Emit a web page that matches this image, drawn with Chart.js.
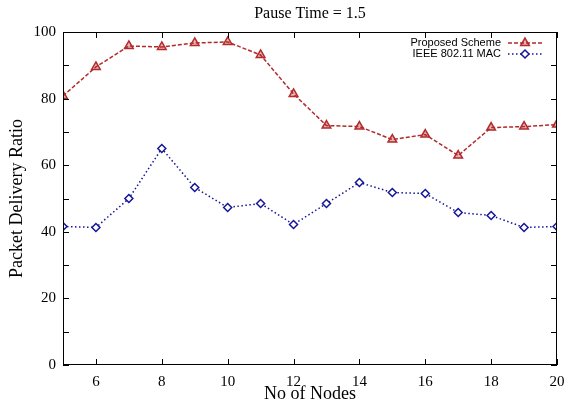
<!DOCTYPE html>
<html>
<head>
<meta charset="utf-8">
<script src="https://cdn.jsdelivr.net/npm/chart.js@4"></script>
<style>
  body { margin: 0; background: #fff; }
  #wrap { width: 566px; height: 403px; }
</style>
</head>
<body>
<div id="wrap"><canvas id="chartPdr"></canvas></div>
<script>
// data
const nodes = [5, 6, 7, 8, 9, 10, 11, 12, 13, 14, 15, 16, 17, 18, 19, 20];
const proposed = [80.8, 89.5, 95.8, 95.5, 96.7, 97.0, 93.1, 81.4, 71.9, 71.6, 67.7, 69.2, 62.9, 71.3, 71.6, 72.2];
const ieee = [41.6, 41.3, 50.0, 65.0, 53.3, 47.3, 48.5, 42.2, 48.5, 54.8, 51.8, 51.5, 45.8, 44.9, 41.3, 41.6];
const xTicks = [6, 8, 10, 12, 14, 16, 18, 20];
const yTicks = [0, 10, 20, 30, 40, 50, 60, 70, 80, 90, 100];

const RED = '#b22a2a';
const BLUE = '#14149a';
const serif = '"Liberation Serif", "DejaVu Serif", serif';

// box + inward ticks (gnuplot look), title, legend inside plot
const framePlugin = {
    id: 'frame',
    afterDraw(chart) {
        const ctx = chart.ctx;
        const a = chart.chartArea;
        const xs = chart.scales.x, ys = chart.scales.y;
        ctx.save();
        ctx.strokeStyle = '#000';
        ctx.lineWidth = 1;
        ctx.strokeRect(a.left + 0.5, a.top + 0.5, a.right - a.left - 1, a.bottom - a.top - 1);
        ctx.beginPath();
        xTicks.forEach(v => {
            const px = Math.round(xs.getPixelForValue(v)) + 0.5;
            ctx.moveTo(px, a.bottom); ctx.lineTo(px, a.bottom - 6);
            ctx.moveTo(px, a.top); ctx.lineTo(px, a.top + 6);
        });
        yTicks.forEach(v => {
            const py = Math.round(ys.getPixelForValue(v)) + 0.5;
            ctx.moveTo(a.left, py); ctx.lineTo(a.left + 6, py);
            ctx.moveTo(a.right, py); ctx.lineTo(a.right - 6, py);
        });
        ctx.stroke();

        // title
        ctx.fillStyle = '#000';
        ctx.font = '16px ' + serif;
        ctx.textAlign = 'center';
        ctx.textBaseline = 'middle';
        ctx.fillText('Pause Time = 1.5', (a.left + a.right) / 2, 14);

        // legend
        const items = [
            { text: 'Proposed Scheme', color: RED, dash: [4, 2], style: 'triangle' },
            { text: 'IEEE 802.11 MAC', color: BLUE, dash: [1.5, 2.5], style: 'rectRot' }
        ];
        ctx.font = '11px "Liberation Sans", Arial, sans-serif';
        ctx.textAlign = 'right';
        items.forEach((it, i) => {
            const y = 43 + i * 11;
            ctx.fillStyle = '#000';
            ctx.fillText(it.text, 501, y);
            ctx.strokeStyle = it.color;
            ctx.lineWidth = 1.5;
            ctx.setLineDash(it.dash);
            ctx.beginPath();
            ctx.moveTo(508, y); ctx.lineTo(542, y);
            ctx.stroke();
            ctx.setLineDash([]);
            ctx.fillStyle = it.style === 'triangle' ? 'rgba(178,42,42,0.35)' : '#fff';
            Chart.helpers.drawPoint(ctx, {
                pointStyle: it.style,
                radius: it.style === 'triangle' ? 5 : 4,
                rotation: 0,
                borderWidth: 1.5
            }, 525, y);
        });
        ctx.restore();
    }
};

new Chart(document.getElementById('chartPdr'), {
    type: 'line',
    data: {
        labels: nodes,
        datasets: [
            {
                label: 'Proposed Scheme',
                data: nodes.map((n, i) => ({ x: n, y: proposed[i] })),
                borderColor: RED,
                borderWidth: 1.5,
                borderDash: [4, 2],
                pointStyle: 'triangle',
                pointRadius: 5,
                pointBorderWidth: 1.5,
                pointBorderColor: RED,
                pointBackgroundColor: 'rgba(178,42,42,0.35)',
                tension: 0
            },
            {
                label: 'IEEE 802.11 MAC',
                data: nodes.map((n, i) => ({ x: n, y: ieee[i] })),
                borderColor: BLUE,
                borderWidth: 1.5,
                borderDash: [1.5, 2.5],
                pointStyle: 'rectRot',
                pointRadius: 4,
                pointBorderWidth: 1.5,
                pointBorderColor: BLUE,
                pointBackgroundColor: '#fff',
                tension: 0
            }
        ]
    },
    options: {
        responsive: true,
        maintainAspectRatio: false,
        animation: false,
        layout: { padding: { top: 32, right: 9, left: 0, bottom: 0 } },
        scales: {
            x: {
                type: 'linear',
                min: 5,
                max: 20,
                afterBuildTicks: s => { s.ticks = xTicks.map(v => ({ value: v })); },
                afterFit: s => { s.height = 38; s.paddingRight = 0; s.paddingLeft = 0; },
                grid: { display: false, drawTicks: false },
                border: { display: false },
                ticks: { color: '#000', font: { family: serif, size: 15 }, padding: 8, maxRotation: 0 },
                title: { display: true, text: 'No of Nodes', color: '#000', font: { family: serif, size: 18, lineHeight: 1 }, padding: 0 }
            },
            y: {
                min: 0,
                max: 100,
                afterBuildTicks: s => { s.ticks = yTicks.map(v => ({ value: v })); },
                afterFit: s => { s.width = 63; },
                grid: { display: false, drawTicks: false },
                border: { display: false },
                ticks: {
                    color: '#000',
                    font: { family: serif, size: 15 },
                    padding: 7,
                    callback: v => (v % 20 === 0 ? v : '')
                },
                title: { display: true, text: 'Packet Delivery Ratio', color: '#000', font: { family: serif, size: 18, lineHeight: 1 }, padding: { top: 8, bottom: 0 } }
            }
        },
        plugins: {
            legend: { display: false },
            tooltip: { enabled: false }
        }
    },
    plugins: [framePlugin]
});
</script>
</body>
</html>
